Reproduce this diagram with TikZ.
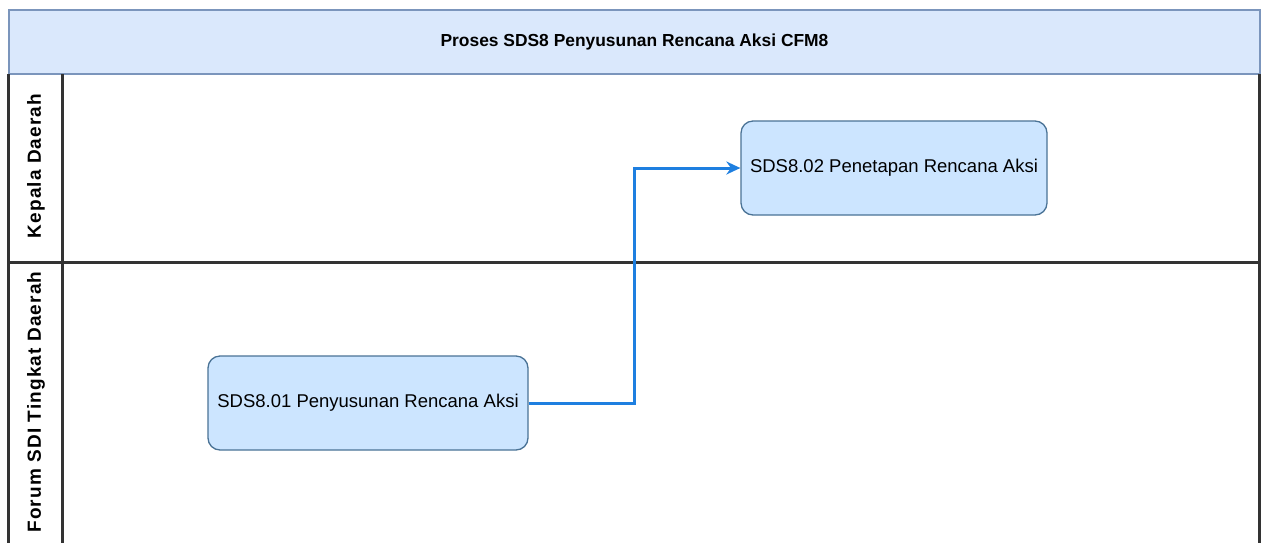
\documentclass[tikz,border=0pt]{standalone}
\usepackage{fontspec}
\setmainfont{Liberation Sans}
\usetikzlibrary{arrows.meta}
\definecolor{hdrfill}{HTML}{DAE8FC}
\definecolor{hdrdraw}{HTML}{7B95BC}
\definecolor{boxfill}{HTML}{CCE5FF}
\definecolor{boxdraw}{HTML}{4A7396}
\definecolor{arrowc}{HTML}{1E7FE0}
\tikzset{
  x=1pt,y=-1pt,
  lane/.style={draw=black!80,line width=3pt},
  procbox/.style={draw=boxdraw,fill=boxfill,rounded corners=12pt,line width=1.3pt,minimum width=320pt,minimum height=94pt,inner sep=0pt,font=\fontsize{18.5}{22}\selectfont},
  lanelabel/.style={rotate=90,font=\bfseries\fontsize{19}{22}\selectfont\addfontfeatures{LetterSpace=6},inner sep=0pt},
  flow/.style={draw=arrowc,line width=3pt,-{Stealth[length=14pt,width=13pt]}}
}
\begin{document}
\begin{tikzpicture}
\useasboundingbox (0,0) rectangle (1265,542);
\fill[white] (0,0) rectangle (1265,542);
% header
\node[draw=hdrdraw,fill=hdrfill,line width=2pt,minimum width=1251pt,minimum height=64pt,inner sep=0pt,anchor=north west,font=\bfseries\fontsize{17.4}{20}\selectfont] (hdr) at (8,9) {Proses SDS8 Penyusunan Rencana Aksi CFM8};
% lanes
\draw[lane] (8,74) -- (8,544);
\draw[lane] (62,74) -- (62,544);
\draw[lane] (1259,74) -- (1259,544);
\draw[lane] (8,262) -- (1259,262);
\node[lanelabel] (l1) at (36,166) {Kepala Daerah};
\node[lanelabel] (l2) at (36,402) {Forum SDI Tingkat Daerah};
% boxes
\node[procbox] (b1) at (368,403) {SDS8.01 Penyusunan Rencana Aksi};
\node[procbox,minimum width=306pt] (b2) at (894,168) {SDS8.02 Penetapan Rencana Aksi};
\coordinate (m1) at (634,403);
\coordinate (m2) at (634,168);
\draw[flow] (b1.east) -- (m1) -- (m2) -- (b2.west);
\end{tikzpicture}
\end{document}
